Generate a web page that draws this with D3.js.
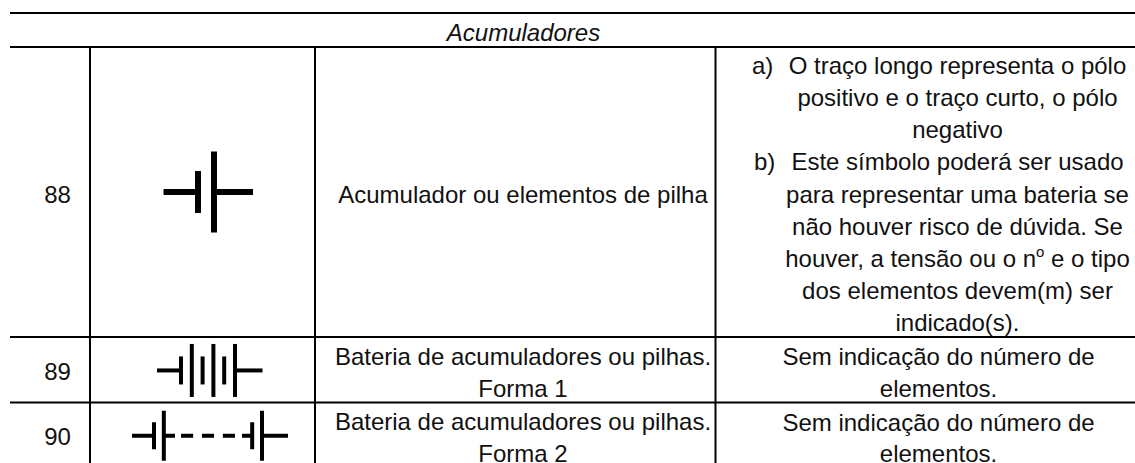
<!DOCTYPE html>
<html>
<head>
<meta charset="utf-8">
<script src="https://cdn.jsdelivr.net/npm/d3@7"></script>
<style>
  html, body { margin: 0; padding: 0; background: #fff; overflow: hidden; }
  text { font-family: "Liberation Sans", Arial, sans-serif; font-size: 24px; fill: #111; }
</style>
</head>
<body>
<script>
var svgWidth = 1135;
var svgHeight = 463;

// table content
var title = "Acumuladores";
var numbers = ["88", "89", "90"];
var descriptions = [
  ["Acumulador ou elementos de pilha"],
  ["Bateria de acumuladores ou pilhas.", "Forma 1"],
  ["Bateria de acumuladores ou pilhas.", "Forma 2"]
];
var notesA = ["O traço longo representa o pólo", "positivo e o traço curto, o pólo", "negativo"];
var notesB = ["Este símbolo poderá ser usado", "para representar uma bateria se", "não houver risco de dúvida. Se",
  "houver, a tensão ou o n|o| e o tipo", "dos elementos devem(m) ser", "indicado(s)."];
var notes89 = ["Sem indicação do número de", "elementos."];
var notes90 = ["Sem indicação do número de", "elementos."];

// battery symbols: s = short plate, l = long plate, null = empty slot
var plates88 = ["s", "l"];
var plates89 = ["s", "l", "s", "l", "s", "l"];
var plates90 = ["s", "l", null, null, null, null, null, null, null, null, "s", "l"];
var dashes90 = ["d1", "d2", "d3"];

var svg = d3.select("body").append("svg")
  .attr("width", svgWidth)
  .attr("height", svgHeight)
  .style("display", "block");

// grid
var rowEdges = [47, 337, 402.5, 469];
var columnEdges = [90, 315, 715.5];

function rule(x1, y1, x2, y2) {
  svg.append("line")
    .attr("x1", x1).attr("y1", y1).attr("x2", x2).attr("y2", y2)
    .attr("stroke", "#000").attr("stroke-width", 2);
}
rule(10, 13, svgWidth, 13);
rowEdges.slice(0, 3).forEach(function(y) { rule(10, y, svgWidth, y); });
columnEdges.forEach(function(x) { rule(x, 47, x, svgHeight); });

function rowCenter(i) { return (rowEdges[i] + rowEdges[i + 1]) / 2; }

// text helper, "|o|" marks a superscript
function label(x, y, str, anchor, italic) {
  var t = svg.append("text")
    .attr("x", x).attr("y", y)
    .attr("text-anchor", anchor || "middle");
  if (italic) t.attr("font-style", "italic");
  str.split("|").forEach(function(part, i) {
    var s = t.append("tspan").text(part);
    if (i == 1) s.attr("dy", -10).style("font-size", "15px");
    if (i == 2) s.attr("dy", 10);
  });
}

label(523.5, 41, title, "middle", true);

var numberBaselines = [203, 380, 445];
numbers.forEach(function(n, i) { label(57.5, numberBaselines[i], n); });

var descBaselines = [[202.5], [364.5, 396.5], [430, 462]];
descriptions.forEach(function(lines, i) {
  lines.forEach(function(l, j) { label(523, descBaselines[i][j], l); });
});

// notes of row 88 share one line grid
var noteLine = d3.scaleLinear().domain([0, 8]).range([74, 331]);
notesA.forEach(function(l, i) { label(957.5, noteLine(i), l); });
notesB.forEach(function(l, i) { label(957.5, noteLine(i + 3), l); });
label(752, noteLine(0), "a)", "start");
label(754, noteLine(3), "b)", "start");

[365, 397].forEach(function(y, i) { label(938.5, y, notes89[i]); });
[431, 462].forEach(function(y, i) { label(938.5, y, notes90[i]); });

// symbols
function bar(x1, y1, x2, y2, w) {
  svg.append("line")
    .attr("x1", x1).attr("y1", y1).attr("x2", x2).attr("y2", y2)
    .attr("stroke", "#000").attr("stroke-width", w);
}

function battery(plates, rowIndex, o) {
  var cy = rowCenter(rowIndex) + (o.shift || 0);
  var x = d3.scalePoint().domain(d3.range(plates.length)).range(o.range);
  plates.forEach(function(p, i) {
    if (!p) return;
    var half = p == "l" ? o.long : o.short;
    bar(x(i), cy - half, x(i), cy + half, o.width);
  });
  bar(o.wire[0], cy, o.range[0], cy, o.width);
  bar(o.range[1], cy, o.wire[1], cy, o.width);
  return { x: x, cy: cy };
}

battery(plates88, 0, { range: [198, 214], wire: [163.5, 253], long: 40.5, short: 21, width: 6 });
battery(plates89, 1, { range: [181, 235], wire: [157, 262.5], long: 26.5, short: 14, width: 4, shift: 0.7 });
var s90 = battery(plates90, 2, { range: [154, 262], wire: [132, 288], long: 25, short: 13.5, width: 4 });

// the first group has a stub on its right, the second group a stub on its left
bar(s90.x(1), s90.cy, 175, s90.cy, 4);
bar(242, s90.cy, s90.x(10), s90.cy, 4);

var dashScale = d3.scaleBand().domain(dashes90).range([181, 235]).paddingInner(0.42);
dashes90.forEach(function(d) {
  bar(dashScale(d), s90.cy, dashScale(d) + dashScale.bandwidth(), s90.cy, 4);
});
</script>
</body>
</html>
